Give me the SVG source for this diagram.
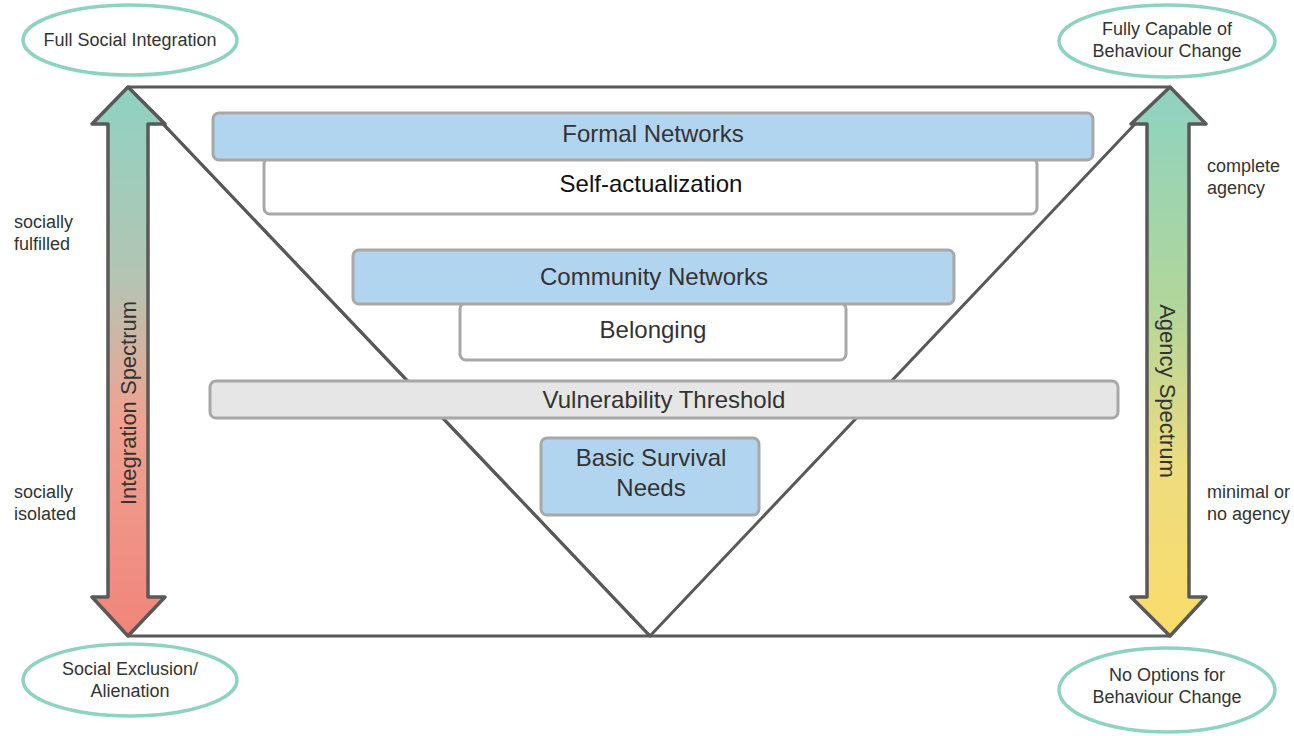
<svg xmlns="http://www.w3.org/2000/svg" width="1294" height="736" viewBox="0 0 1294 736">
<defs>
<linearGradient id="gl" x1="0" y1="0" x2="0" y2="1">
<stop offset="0" stop-color="#8ed2c2"/>
<stop offset="0.35" stop-color="#b5c4b3"/>
<stop offset="0.6" stop-color="#eea390"/>
<stop offset="1" stop-color="#f0857a"/>
</linearGradient>
<linearGradient id="gr" x1="0" y1="0" x2="0" y2="1">
<stop offset="0" stop-color="#8ed2c2"/>
<stop offset="0.4" stop-color="#b2d69a"/>
<stop offset="0.7" stop-color="#eedc80"/>
<stop offset="1" stop-color="#fadc6a"/>
</linearGradient>
<style>
.frame{fill:none;stroke:#595959;stroke-width:3;stroke-linejoin:round}
.arrow{stroke:#595959;stroke-width:3.5;stroke-linejoin:round}
.ell{fill:#fff;stroke:#8ed2c2;stroke-width:3.5}
.box{stroke:#a8a8a8;stroke-width:3}
.blue{fill:#b2d5ef}
.white{fill:#fff}
.grey{fill:#e6e6e6}
.t{font-family:"Liberation Sans",Arial,sans-serif;fill:#333;text-anchor:middle}
.big{font-size:24px}
.rot{font-size:22px}
.sm{font-size:18px}
.side{font-family:"Liberation Sans",Arial,sans-serif;fill:#333;font-size:18px}
</style>
</defs>
<g id="connectors">
<path class="frame" d="M128,87 L1170,87 L650,636 Z"/>
<path class="frame" d="M128,636 L1170,636"/>
<path class="frame" d="M128,87 L650,636"/>
</g>
<g id="integration-arrow">
<path class="arrow" fill="url(#gl)" d="M128,87 L165,124 L148,124 L148,597 L165,597 L128,636 L92,597 L108,597 L108,124 L92,124 Z"/>
<text class="t rot" transform="translate(136,403) rotate(-90)">Integration Spectrum</text>
</g>
<g id="agency-arrow">
<path class="arrow" fill="url(#gr)" d="M1170,87 L1206,124 L1189,124 L1189,597 L1206,597 L1170,636 L1131,597 L1147,597 L1147,124 L1131,124 Z"/>
<text class="t rot" transform="translate(1160,391) rotate(90)">Agency Spectrum</text>
</g>
<g id="full-social-integration">
<ellipse class="ell" cx="130" cy="40" rx="107" ry="35"/>
<text class="t sm" x="130" y="46">Full Social Integration</text>
</g>
<g id="fully-capable">
<ellipse class="ell" cx="1167" cy="41" rx="108" ry="36"/>
<text class="t sm" x="1167" y="35">Fully Capable of</text>
<text class="t sm" x="1167" y="57">Behaviour Change</text>
</g>
<g id="social-exclusion">
<ellipse class="ell" cx="130" cy="680" rx="107" ry="36"/>
<text class="t sm" x="130" y="675">Social Exclusion/</text>
<text class="t sm" x="130" y="697">Alienation</text>
</g>
<g id="no-options">
<ellipse class="ell" cx="1167" cy="690" rx="108" ry="42"/>
<text class="t sm" x="1167" y="681">No Options for</text>
<text class="t sm" x="1167" y="703">Behaviour Change</text>
</g>
<g id="side-labels">
<text class="side" x="14" y="228">socially</text>
<text class="side" x="14" y="250">fulfilled</text>
<text class="side" x="14" y="498">socially</text>
<text class="side" x="14" y="520">isolated</text>
<text class="side" x="1207" y="172">complete</text>
<text class="side" x="1207" y="194">agency</text>
<text class="side" x="1207" y="498">minimal or</text>
<text class="side" x="1207" y="520">no agency</text>
</g>
<g id="self-actualization">
<rect class="box white" x="264" y="158" width="773" height="56" rx="6"/>
<text class="t big" style="fill:#111" x="651" y="192">Self-actualization</text>
</g>
<g id="formal-networks">
<rect class="box blue" x="213" y="113" width="880" height="47" rx="6"/>
<text class="t big" x="653" y="142">Formal Networks</text>
</g>
<g id="belonging">
<rect class="box white" x="460" y="303" width="386" height="57" rx="6"/>
<text class="t big" x="653" y="338">Belonging</text>
</g>
<g id="community-networks">
<rect class="box blue" x="353" y="250" width="601" height="54" rx="6"/>
<text class="t big" x="654" y="285">Community Networks</text>
</g>
<g id="vulnerability-threshold">
<rect class="box grey" x="210" y="381" width="908" height="37" rx="6"/>
<text class="t big" x="664" y="408">Vulnerability Threshold</text>
</g>
<g id="basic-survival-needs">
<rect class="box blue" x="541" y="438" width="218" height="77" rx="6"/>
<text class="t big" x="651" y="466">Basic Survival</text>
<text class="t big" x="651" y="496">Needs</text>
</g>
</svg>
